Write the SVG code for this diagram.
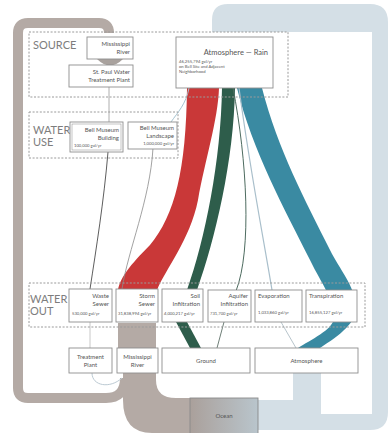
<svg xmlns="http://www.w3.org/2000/svg" width="390" height="433" viewBox="0 0 390 433">
<defs>
<style>
.sec{fill:none;stroke:#9a9a9a;stroke-width:1;stroke-dasharray:2 1.6}
.sect{font-family:Lato,"Open Sans",sans-serif;font-size:11px;fill:#7d7d7d}
.box{fill:#fff;stroke:#8e8e8e;stroke-width:0.9}
.t{font-family:Lato,"Open Sans",sans-serif;font-size:6px;fill:#555}
.s{font-family:Lato,"Open Sans",sans-serif;font-size:4.2px;fill:#555}
.r{text-anchor:end}
.c{text-anchor:middle}
.ln{fill:none}
</style>
<linearGradient id="og" x1="0" y1="0" x2="1" y2="0">
<stop offset="0" stop-color="#aaa09b"/>
<stop offset="1" stop-color="#b9c5cc"/>
</linearGradient>
</defs>
<rect width="390" height="433" fill="#fff"/>
<g id="connectors">
<path d="M212,32 V20 Q212,4 228,4 H370 Q388,4 388,22 V412 Q388,430 370,430 H258 V400 H293 V373 H321 V414 H372 V32 Z" fill="#d4dfe6"/>
<path class="ln" d="M125,378 C125,392 118,398 106,398 H28 Q18,398 18,388 V33 Q18,23 28,23 H99 Q109,23 109,33 V32" stroke="#b4aaa5" stroke-width="10"/>
<path d="M118,323 H156 V380 Q156,398 176,398 H192 V433 H152 Q123,433 123,400 V373 H118 Z" fill="#b4aaa5"/>
<path d="M97,59 Q110,72 123,59 Z" fill="#a9a29e"/>
<path d="M187,88 C186,170 175,215 150,245 C130,265 120,278 118,290 L157,290 C165,270 190,240 198,200 C205,160 218,120 219,88 Z" fill="#c93838"/>
<path d="M222,88 C221,160 205,240 187,290 L197,290 C215,240 234,160 235,88 Z" fill="#2e5d4b"/>
<path d="M176,322 H187 L201,348 H190 Z" fill="#2e5d4b"/>
<path d="M237,88 C252,150 285,210 310,260 C322,285 335,300 334,318 C333,330 310,340 298,348 L320,348 C340,335 358,322 356,305 C354,285 340,270 330,250 C305,200 278,150 262,88 Z" fill="#3a8aa2"/>
<path class="ln" d="M233,88 C247,160 252,250 236,291" stroke="#4d6b5f" stroke-width="1"/>
<path class="ln" d="M239,88 C250,170 262,230 272,290" stroke="#a9bfcb" stroke-width="1.2"/>
<path class="ln" d="M281,322 L296,348" stroke="#b8c5cc" stroke-width="1"/>
<path class="ln" d="M224,322 L217,348" stroke="#6f7f78" stroke-width="1"/>
<path class="ln" d="M90,322 V348" stroke="#c8c8c8" stroke-width="1"/>
<path class="ln" d="M92,373 C92,386 110,389 122,378" stroke="#bccad3" stroke-width="1"/>
<path class="ln" d="M109,87 V122" stroke="#9a9a9a" stroke-width="0.8"/>
<path class="ln" d="M108,152 C104,200 96,250 90,289" stroke="#333" stroke-width="0.8"/>
<path class="ln" d="M153,148 C150,200 128,250 122,289" stroke="#8a8a8a" stroke-width="0.8"/>
<path class="ln" d="M189,88 C186,104 178,112 171,122" stroke="#a5c3d1" stroke-width="1"/>
</g>
<g id="source">
<rect class="sec" x="29" y="32" width="259" height="65"/>
<text class="sect" x="33" y="49">SOURCE</text>
</g>
<g id="water-use">
<rect class="sec" x="29" y="112" width="149" height="46"/>
<text class="sect" x="33" y="134">WATER</text>
<text class="sect" x="33" y="146">USE</text>
</g>
<g id="water-out">
<rect class="sec" x="29" y="283" width="336" height="44"/>
<text class="sect" x="30" y="303">WATER</text>
<text class="sect" x="30" y="315">OUT</text>
</g>
<g id="mississippi-source">
<rect class="box" x="87" y="37" width="46" height="22"/>
<text class="t r" x="130" y="46">Mississippi</text>
<text class="t r" x="130" y="54">River</text>
</g>
<g id="st-paul">
<rect class="box" x="69" y="65" width="64" height="22"/>
<text class="t r" x="130" y="74">St. Paul Water</text>
<text class="t r" x="130" y="82">Treatment Plant</text>
</g>
<g id="rain">
<rect class="box" x="176" y="37" width="97" height="51"/>
<text class="t r" x="268" y="55" style="font-size:7.5px">Atmosphere — Rain</text>
<text class="s" x="179" y="63">46,255,794 gal/yr</text>
<text class="s" x="179" y="68">on Bell Site and Adjacent</text>
<text class="s" x="179" y="73">Neighborhood</text>
</g>
<g id="building">
<rect class="box" x="70" y="122" width="53" height="30" stroke-width="2" stroke="#a0a0a0"/>
<rect x="72" y="124" width="49" height="26" fill="none" stroke="#8a8a8a" stroke-width="0.5"/>
<text class="t r" x="119" y="132">Bell Museum</text>
<text class="t r" x="119" y="140">Building</text>
<text class="s" x="74" y="147">100,000 gal/yr</text>
</g>
<g id="landscape">
<rect class="box" x="128" y="122" width="49" height="27"/>
<text class="t r" x="174" y="130">Bell Museum</text>
<text class="t r" x="174" y="138">Landscape</text>
<text class="s r" x="174" y="145">1,000,000 gal/yr</text>
</g>
<g id="waste-sewer">
<rect class="box" x="69" y="289" width="43" height="33"/>
<text class="t r" x="109" y="298">Waste</text>
<text class="t r" x="109" y="306">Sewer</text>
<text class="s" x="72" y="315">530,000 gal/yr</text>
</g>
<g id="storm-sewer">
<rect class="box" x="116" y="289" width="42" height="33"/>
<text class="t r" x="155" y="298">Storm</text>
<text class="t r" x="155" y="306">Sewer</text>
<text class="s" x="118" y="315">31,838,994 gal/yr</text>
</g>
<g id="soil">
<rect class="box" x="162" y="289" width="41" height="33"/>
<text class="t r" x="200" y="298">Soil</text>
<text class="t r" x="200" y="306">Infiltration</text>
<text class="s" x="164" y="315">4,000,217 gal/yr</text>
</g>
<g id="aquifer">
<rect class="box" x="208" y="290" width="43" height="32"/>
<text class="t r" x="248" y="298">Aquifer</text>
<text class="t r" x="248" y="306">Infiltration</text>
<text class="s" x="210" y="315">731,700 gal/yr</text>
</g>
<g id="evaporation">
<rect class="box" x="255" y="290" width="47" height="32"/>
<text class="t" x="258" y="298">Evaporation</text>
<text class="s" x="258" y="314">1,033,860 gal/yr</text>
</g>
<g id="transpiration">
<rect class="box" x="306" y="290" width="51" height="32"/>
<text class="t" x="309" y="298">Transpiration</text>
<text class="s" x="309" y="314">16,855,127 gal/yr</text>
</g>
<g id="treatment-plant">
<rect class="box" x="69" y="348" width="43" height="25"/>
<text class="t c" x="90.5" y="359">Treatment</text>
<text class="t c" x="90.5" y="367">Plant</text>
</g>
<g id="mississippi-out">
<rect class="box" x="117" y="348" width="41" height="25"/>
<text class="t c" x="137.5" y="359">Mississippi</text>
<text class="t c" x="137.5" y="367">River</text>
</g>
<g id="ground">
<rect class="box" x="162" y="348" width="88" height="25"/>
<text class="t c" x="206" y="363">Ground</text>
</g>
<g id="atmosphere">
<rect class="box" x="255" y="348" width="103" height="25"/>
<text class="t c" x="306.5" y="363">Atmosphere</text>
</g>
<g id="ocean">
<rect x="190" y="398" width="68" height="36" fill="url(#og)" stroke="#8a8a8a" stroke-width="0.9"/>
<text class="t c" x="224" y="418">Ocean</text>
</g>
</svg>
